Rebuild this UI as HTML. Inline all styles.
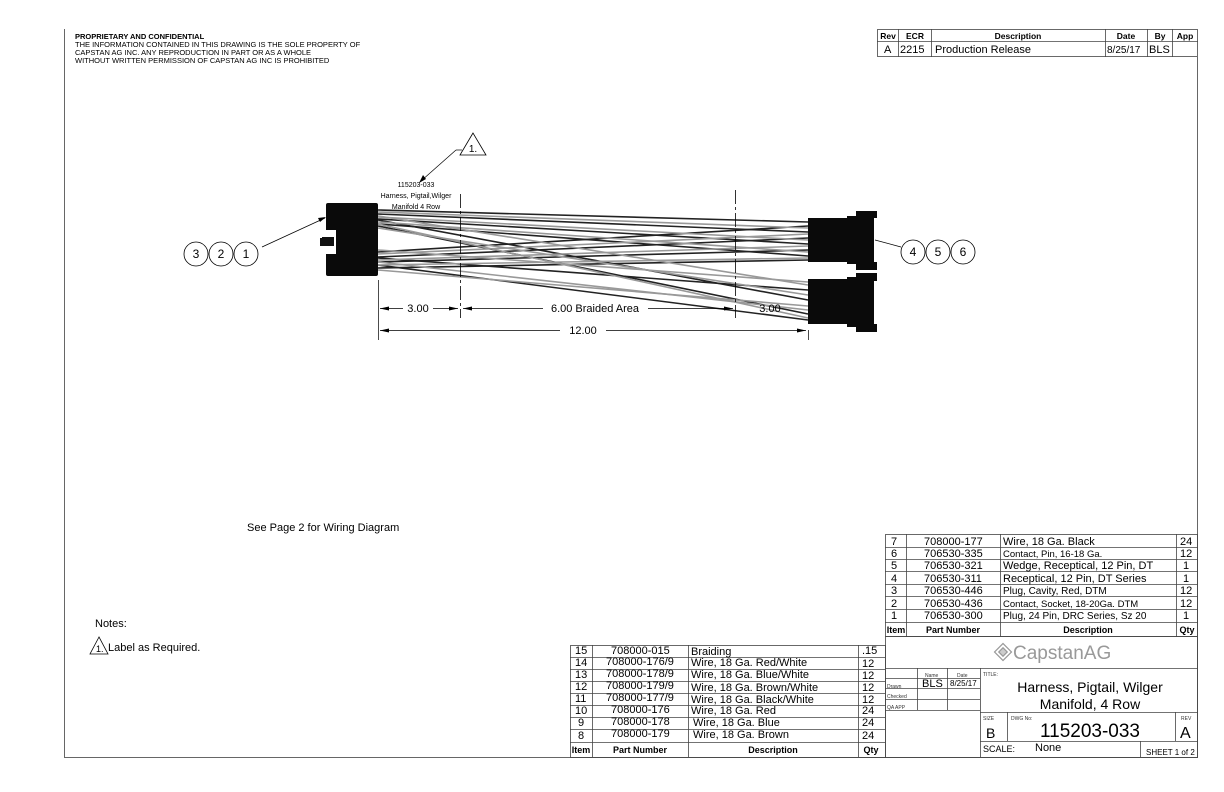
<!DOCTYPE html>
<html><head><meta charset="utf-8"><style>
body{margin:0;background:#fff;}
svg{display:block;font-family:"Liberation Sans",sans-serif;}
</style></head><body>
<svg width="1224" height="792" viewBox="0 0 1224 792" xmlns="http://www.w3.org/2000/svg">
<g stroke="#666" stroke-width="1" fill="none">
<line x1="64.5" y1="29" x2="64.5" y2="757.5"/>
<line x1="64" y1="757.5" x2="1198" y2="757.5"/>
<line x1="1197.5" y1="57" x2="1197.5" y2="757.5"/>
</g>
<g font-size="7.5" fill="#000">
<text x="75" y="39" font-weight="bold">PROPRIETARY AND CONFIDENTIAL</text>
<text x="75" y="47">THE INFORMATION CONTAINED IN THIS DRAWING IS THE SOLE PROPERTY OF</text>
<text x="75" y="55">CAPSTAN AG INC. ANY REPRODUCTION IN PART OR AS A WHOLE</text>
<text x="75" y="63">WITHOUT WRITTEN PERMISSION OF CAPSTAN AG INC IS PROHIBITED</text>
</g>
<!-- rev block -->
<g stroke="#444" stroke-width="0.8" fill="none">
<rect x="877.5" y="29.5" width="320" height="27"/>
<line x1="877" y1="41.5" x2="1198" y2="41.5"/>
<line x1="898.5" y1="29" x2="898.5" y2="57"/>
<line x1="931.5" y1="29" x2="931.5" y2="57"/>
<line x1="1105.5" y1="29" x2="1105.5" y2="57"/>
<line x1="1147.5" y1="29" x2="1147.5" y2="57"/>
<line x1="1172.5" y1="29" x2="1172.5" y2="57"/>
</g>
<g font-size="8.5" font-weight="bold" text-anchor="middle">
<text x="888" y="39">Rev</text><text x="915" y="39">ECR</text><text x="1018" y="39">Description</text><text x="1126" y="39">Date</text><text x="1160" y="39">By</text><text x="1185" y="39">App</text>
</g>
<g font-size="11">
<text x="884" y="53">A</text><text x="900" y="53">2215</text><text x="935" y="53">Production Release</text><text x="1107" y="53" font-size="10">8/25/17</text><text x="1149" y="53">BLS</text>
</g>
<!-- drawing -->
<!-- wires -->
<g stroke-width="1.6">
<g stroke="#222">
<line x1="378" y1="210" x2="808" y2="222"/><line x1="378" y1="214" x2="808" y2="232"/><line x1="378" y1="219" x2="808" y2="244"/><line x1="378" y1="224" x2="808" y2="256"/>
<line x1="378" y1="252" x2="808" y2="226"/><line x1="378" y1="257" x2="808" y2="238"/><line x1="378" y1="262" x2="808" y2="250"/><line x1="378" y1="268" x2="808" y2="260"/>
<line x1="378" y1="220" x2="808" y2="300"/><line x1="378" y1="226" x2="808" y2="314"/><line x1="378" y1="258" x2="808" y2="290"/><line x1="378" y1="265" x2="808" y2="320"/>
</g>
<g stroke="#999">
<line x1="378" y1="212" x2="808" y2="228"/><line x1="378" y1="217" x2="808" y2="240"/><line x1="378" y1="222" x2="808" y2="252"/><line x1="378" y1="228" x2="808" y2="295"/>
<line x1="378" y1="254" x2="808" y2="234"/><line x1="378" y1="260" x2="808" y2="246"/><line x1="378" y1="265" x2="808" y2="258"/><line x1="378" y1="270" x2="808" y2="306"/>
<line x1="378" y1="216" x2="808" y2="285"/><line x1="378" y1="250" x2="808" y2="282"/><line x1="378" y1="262" x2="808" y2="310"/><line x1="378" y1="224" x2="808" y2="318"/>
</g>
</g>
<!-- left connector -->
<rect x="326" y="203" width="52" height="73" fill="#0a0a0a" rx="2"/>
<rect x="320" y="238" width="14" height="8" fill="#111"/>
<rect x="326" y="230" width="10" height="24" fill="#fff"/>
<rect x="322" y="237" width="12" height="9" fill="#111"/>
<!-- right connectors -->
<g fill="#0a0a0a">
<rect x="808" y="218" width="40" height="44"/><rect x="847" y="216" width="27" height="48"/>
<rect x="856" y="211" width="21" height="7"/><rect x="856" y="262" width="21" height="8"/>
<rect x="808" y="279" width="40" height="45"/><rect x="847" y="277" width="27" height="50"/>
<rect x="856" y="273" width="21" height="8"/><rect x="856" y="324" width="21" height="8"/>
</g>
<!-- center lines -->
<g stroke="#000" stroke-width="0.8" stroke-dasharray="14 3 3 3">
<line x1="460.5" y1="194" x2="460.5" y2="318"/><line x1="735.5" y1="190" x2="735.5" y2="318"/>
</g>
<g stroke="#000" stroke-width="0.7">
<line x1="378.5" y1="280" x2="378.5" y2="340"/><line x1="808.5" y1="330" x2="808.5" y2="340"/>
<line x1="380" y1="308.5" x2="403" y2="308.5"/><line x1="433" y1="308.5" x2="458" y2="308.5"/>
<line x1="463" y1="308.5" x2="543" y2="308.5"/><line x1="648" y1="308.5" x2="733" y2="308.5"/>
<line x1="380" y1="330.5" x2="560" y2="330.5"/><line x1="606" y1="330.5" x2="806" y2="330.5"/>
<line x1="421" y1="181" x2="456" y2="150"/><line x1="456" y1="150" x2="462" y2="150"/>
<line x1="262" y1="247" x2="325" y2="218"/><line x1="875" y1="240" x2="901" y2="247"/>
</g>
<g fill="#000">
<path d="M380 308.5l9-2v4z"/><path d="M458 308.5l-9-2v4z"/><path d="M463 308.5l9-2v4z"/><path d="M733 308.5l-9-2v4z"/>
<path d="M380 330.5l9-2v4z"/><path d="M806 330.5l-9-2v4z"/>
<path d="M419 183l4-8 3 4z"/><path d="M326 217l-8 1 2 4z"/>
</g>
<g font-size="11" text-anchor="middle">
<text x="418" y="312">3.00</text><text x="595" y="312">6.00 Braided Area</text><text x="770" y="312">3.00</text><text x="583" y="334">12.00</text>
</g>
<polygon points="473,133 460,155 486,155" fill="#fff" stroke="#000" stroke-width="0.8"/>
<text x="473" y="152" font-size="10" text-anchor="middle">1.</text>
<g font-size="7" text-anchor="middle">
<text x="416" y="187">115203-033</text><text x="416" y="198">Harness, Pigtail,Wilger</text><text x="416" y="209">Manifold 4 Row</text>
</g>
<g fill="#fff" stroke="#000" stroke-width="0.8">
<circle cx="196" cy="254" r="12"/><circle cx="221" cy="254" r="12"/><circle cx="246" cy="254" r="12"/>
<circle cx="913" cy="252" r="12"/><circle cx="938" cy="252" r="12"/><circle cx="963" cy="252" r="12"/>
</g>
<g font-size="12" text-anchor="middle">
<text x="196" y="258">3</text><text x="221" y="258">2</text><text x="246" y="258">1</text>
<text x="913" y="256">4</text><text x="938" y="256">5</text><text x="963" y="256">6</text>
</g>
<text x="247" y="531" font-size="11">See Page 2 for Wiring Diagram</text>
<text x="95" y="627" font-size="11">Notes:</text>
<polygon points="99,637 90,654 108,654" fill="#fff" stroke="#000" stroke-width="0.8"/>
<text x="96" y="652" font-size="9">1.</text>
<text x="108" y="651" font-size="11">Label as Required.</text>
<!-- upper BOM -->
<g stroke="#444" stroke-width="0.8" fill="none">
<rect x="885.5" y="534.5" width="312" height="102"/>
<line x1="906.5" y1="534" x2="906.5" y2="637"/><line x1="1000.5" y1="534" x2="1000.5" y2="637"/><line x1="1176.5" y1="534" x2="1176.5" y2="637"/>
<line x1="885" y1="547.5" x2="1198" y2="547.5"/><line x1="885" y1="559.5" x2="1198" y2="559.5"/><line x1="885" y1="571.5" x2="1198" y2="571.5"/><line x1="885" y1="584.5" x2="1198" y2="584.5"/><line x1="885" y1="596.5" x2="1198" y2="596.5"/><line x1="885" y1="609.5" x2="1198" y2="609.5"/><line x1="885" y1="622.5" x2="1198" y2="622.5"/>
<!-- title block -->
<rect x="885.5" y="636.5" width="312" height="121"/>
<line x1="885" y1="668.5" x2="1198" y2="668.5"/>
<line x1="980.5" y1="668" x2="980.5" y2="757"/>
<line x1="885" y1="678.5" x2="980" y2="678.5"/><line x1="885" y1="688.5" x2="980" y2="688.5"/><line x1="885" y1="699.5" x2="980" y2="699.5"/><line x1="885" y1="710.5" x2="1198" y2="710.5" stroke="none"/>
<line x1="917.5" y1="668" x2="917.5" y2="710"/><line x1="947.5" y1="668" x2="947.5" y2="710"/><line x1="885" y1="710.5" x2="980" y2="710.5"/>
<line x1="980" y1="712.5" x2="1198" y2="712.5"/><line x1="1007.5" y1="712" x2="1007.5" y2="741"/><line x1="1175.5" y1="712" x2="1175.5" y2="741"/>
<line x1="980" y1="741.5" x2="1198" y2="741.5"/><line x1="1140.5" y1="741" x2="1140.5" y2="757"/>
<!-- lower BOM -->
<rect x="570.5" y="645.5" width="315" height="112"/>
<line x1="592.5" y1="645" x2="592.5" y2="757"/><line x1="688.5" y1="645" x2="688.5" y2="757"/><line x1="858.5" y1="645" x2="858.5" y2="757"/>
<line x1="570" y1="657.5" x2="885" y2="657.5"/><line x1="570" y1="669.5" x2="885" y2="669.5"/><line x1="570" y1="681.5" x2="885" y2="681.5"/><line x1="570" y1="693.5" x2="885" y2="693.5"/><line x1="570" y1="705.5" x2="885" y2="705.5"/><line x1="570" y1="717.5" x2="885" y2="717.5"/><line x1="570" y1="729.5" x2="885" y2="729.5"/><line x1="570" y1="742.5" x2="885" y2="742.5"/>
</g>
<g font-size="11">
<text x="891" y="545">7</text><text x="924" y="545">708000-177</text><text x="1003" y="545">Wire, 18 Ga. Black</text><text x="1180" y="545">24</text>
<text x="891" y="557">6</text><text x="924" y="557">706530-335</text><text x="1003" y="557" font-size="9.5">Contact, Pin, 16-18 Ga.</text><text x="1180" y="557">12</text>
<text x="891" y="569">5</text><text x="924" y="569">706530-321</text><text x="1003" y="569">Wedge, Receptical, 12 Pin, DT</text><text x="1183" y="569">1</text>
<text x="891" y="582">4</text><text x="924" y="582">706530-311</text><text x="1003" y="582">Receptical, 12 Pin, DT Series</text><text x="1183" y="582">1</text>
<text x="891" y="594">3</text><text x="924" y="594">706530-446</text><text x="1003" y="594" font-size="10">Plug, Cavity, Red, DTM</text><text x="1180" y="594">12</text>
<text x="891" y="607">2</text><text x="924" y="607">706530-436</text><text x="1003" y="607" font-size="9.5">Contact, Socket, 18-20Ga. DTM</text><text x="1180" y="607">12</text>
<text x="891" y="619">1</text><text x="924" y="619">706530-300</text><text x="1003" y="619" font-size="10">Plug, 24 Pin, DRC Series, Sz 20</text><text x="1183" y="619">1</text>
</g>
<g font-size="9" font-weight="bold" text-anchor="middle">
<text x="896" y="633">Item</text><text x="953" y="633">Part Number</text><text x="1088" y="633">Description</text><text x="1187" y="633">Qty</text>
<text x="581" y="753">Item</text><text x="640" y="753">Part Number</text><text x="773" y="753">Description</text><text x="871" y="753">Qty</text>
</g>
<g font-size="11">
<text x="575" y="654">15</text><text x="611" y="654">708000-015</text><text x="691" y="655">Braiding</text><text x="862" y="654">.15</text>
<text x="575" y="666">14</text><text x="606" y="665">708000-176/9</text><text x="691" y="666">Wire, 18 Ga. Red/White</text><text x="862" y="667">12</text>
<text x="575" y="678">13</text><text x="606" y="677">708000-178/9</text><text x="691" y="678">Wire, 18 Ga. Blue/White</text><text x="862" y="679">12</text>
<text x="575" y="690">12</text><text x="606" y="689">708000-179/9</text><text x="691" y="691">Wire, 18 Ga. Brown/White</text><text x="862" y="691">12</text>
<text x="575" y="702">11</text><text x="606" y="701">708000-177/9</text><text x="691" y="703">Wire, 18 Ga. Black/White</text><text x="862" y="703">12</text>
<text x="575" y="714">10</text><text x="611" y="713">708000-176</text><text x="691" y="714">Wire, 18 Ga. Red</text><text x="862" y="714">24</text>
<text x="578" y="726">9</text><text x="611" y="725">708000-178</text><text x="693" y="726">Wire, 18 Ga. Blue</text><text x="862" y="726">24</text>
<text x="578" y="739">8</text><text x="611" y="737">708000-179</text><text x="693" y="738">Wire, 18 Ga. Brown</text><text x="862" y="739">24</text>
</g>
<!-- logo -->
<g transform="translate(1003,652) rotate(45)" fill="none" stroke="#999" stroke-width="1.2"><rect x="-6" y="-6" width="12" height="12"/><rect x="-3" y="-3" width="6" height="6" fill="#ccc"/></g>
<text x="1013" y="659" font-size="19" fill="#999">CapstanAG</text>
<g font-size="5" fill="#333">
<text x="887" y="688">Drawn</text><text x="887" y="698">Checked</text><text x="887" y="709">QA APP</text>
<text x="925" y="677">Name</text><text x="957" y="677">Date</text><text x="983" y="676">TITLE:</text>
<text x="983" y="720">SIZE</text><text x="1011" y="720">DWG No:</text><text x="1181" y="720">REV</text>
</g>
<text x="922" y="687" font-size="11">BLS</text><text x="950" y="686" font-size="8">8/25/17</text>
<text x="1090" y="692" font-size="14" text-anchor="middle">Harness, Pigtail, Wilger</text>
<text x="1090" y="709" font-size="14" text-anchor="middle">Manifold, 4 Row</text>
<text x="986" y="738" font-size="14">B</text>
<text x="1090" y="737" font-size="19" text-anchor="middle">115203-033</text>
<text x="1180" y="738" font-size="16">A</text>
<text x="983" y="752" font-size="9">SCALE:</text><text x="1035" y="751" font-size="11">None</text>
<text x="1146" y="755" font-size="8">SHEET 1 of 2</text>
</svg>
</body></html>
